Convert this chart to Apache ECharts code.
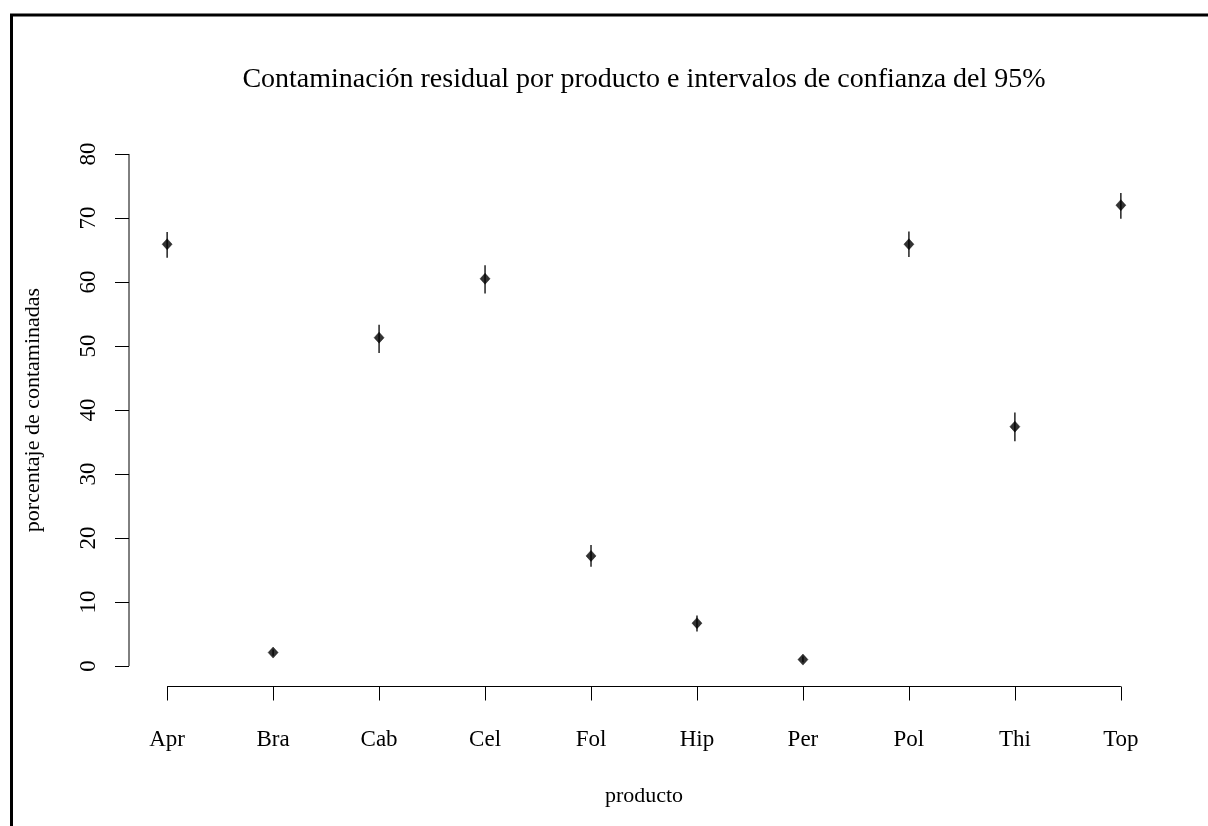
<!DOCTYPE html>
<html>
<head>
<meta charset="utf-8">
<script src="https://cdn.jsdelivr.net/npm/echarts@6/dist/echarts.min.js"></script>
<style>html,body{margin:0;padding:0;background:#fff}#c{width:1208px;height:826px}</style>
</head>
<body>
<div id="c"></div>
<script>
var categories = ["Apr","Bra","Cab","Cel","Fol","Hip","Per","Pol","Thi","Top"];
var estimates  = [65.9, 2.1, 51.3, 60.5, 17.2, 6.7, 1.0, 65.9, 37.4, 72.0];
var lowerCI    = [63.8, 1.6, 48.9, 58.2, 15.5, 5.4, 0.6, 63.9, 35.1, 69.9];
var upperCI    = [67.8, 2.6, 53.3, 62.6, 18.9, 7.9, 1.5, 67.9, 39.6, 73.9];
var yTicks     = [0, 10, 20, 30, 40, 50, 60, 70, 80];

var FONT = "'Liberation Serif','Times New Roman',serif";
var xPos = categories.map(function(c, i){ return i + 1; });
var xMin = 1 - 0.04 * (xPos.length - 1), xMax = xPos.length + 0.04 * (xPos.length - 1);
var yLo = yTicks[0], yHi = yTicks[yTicks.length - 1];
var yMin = yLo - 0.04 * (yHi - yLo), yMax = yHi + 0.04 * (yHi - yLo);

var chart = echarts.init(document.getElementById('c'), null, {renderer: 'canvas'});
chart.setOption({
  backgroundColor: '#fff',
  animation: false,
  graphic: [{
    type: 'rect', left: 9, top: 12.5, silent: true,
    shape: {x: 0, y: 0, width: 1400, height: 1000},
    style: {fill: 'none', stroke: '#000', lineWidth: 3}
  }],
  title: {
    text: 'Contaminación residual por producto e intervalos de confianza del 95%',
    left: 644, top: 66, textAlign: 'center', padding: 0,
    textStyle: {fontFamily: FONT, fontSize: 28, fontWeight: 'normal', color: '#000'}
  },
  grid: {left: 129, right: 49, top: 133.5, bottom: 139.5, containLabel: false},
  xAxis: {
    type: 'value', min: xMin, max: xMax,
    name: 'producto', nameLocation: 'middle', nameGap: 99,
    nameTextStyle: {fontFamily: FONT, fontSize: 22, color: '#000'},
    axisLine: {show: false, onZero: false},
    axisTick: {show: true, inside: false, length: 14, customValues: xPos, lineStyle: {color: '#000', width: 1}},
    axisLabel: {customValues: xPos, margin: 42, fontFamily: FONT, fontSize: 23, color: '#000',
      formatter: function(v){ return categories[Math.round(v) - 1] || ''; }},
    splitLine: {show: false}
  },
  yAxis: {
    type: 'value', min: yMin, max: yMax,
    name: 'porcentaje de contaminadas', nameLocation: 'middle', nameGap: 85, nameRotate: 90,
    nameTextStyle: {fontFamily: FONT, fontSize: 22, color: '#000'},
    axisLine: {show: false, onZero: false},
    axisTick: {show: true, inside: false, length: 14, customValues: yTicks, lineStyle: {color: '#000', width: 1}},
    axisLabel: {customValues: yTicks, rotate: 90, margin: 29, fontFamily: FONT, fontSize: 23, color: '#000'},
    splitLine: {show: false}
  },
  series: [
    {
      type: 'custom', silent: true, clip: false,
      data: [[0]],
      renderItem: function(params, api){
        var a = api.coord([xPos[0], yMin]), b = api.coord([xPos[xPos.length-1], yMin]);
        var c = api.coord([xMin, yLo]), d = api.coord([xMin, yHi]);
        return {type: 'group', children: [
          {type: 'line', shape: {x1: a[0], y1: a[1], x2: b[0], y2: b[1]}, style: {stroke: '#000', lineWidth: 1}},
          {type: 'line', shape: {x1: c[0], y1: c[1], x2: d[0], y2: d[1]}, style: {stroke: '#000', lineWidth: 1}}
        ]};
      }
    },
    {
      type: 'custom', silent: true, clip: false,
      data: xPos.map(function(x, i){ return [x, lowerCI[i], upperCI[i]]; }),
      encode: {x: 0, y: [1, 2]},
      renderItem: function(params, api){
        var lo = api.coord([api.value(0), api.value(1)]);
        var hi = api.coord([api.value(0), api.value(2)]);
        return {type: 'line', shape: {x1: lo[0], y1: lo[1], x2: hi[0], y2: hi[1]},
          style: {stroke: '#222', lineWidth: 1.5}};
      }
    },
    {
      type: 'scatter', silent: true,
      data: xPos.map(function(x, i){ return [x, estimates[i]]; }),
      symbol: 'diamond', symbolSize: [10, 11],
      itemStyle: {color: '#000', borderColor: '#000', borderWidth: 0.5}
    }
  ]
});
</script>
</body>
</html>
